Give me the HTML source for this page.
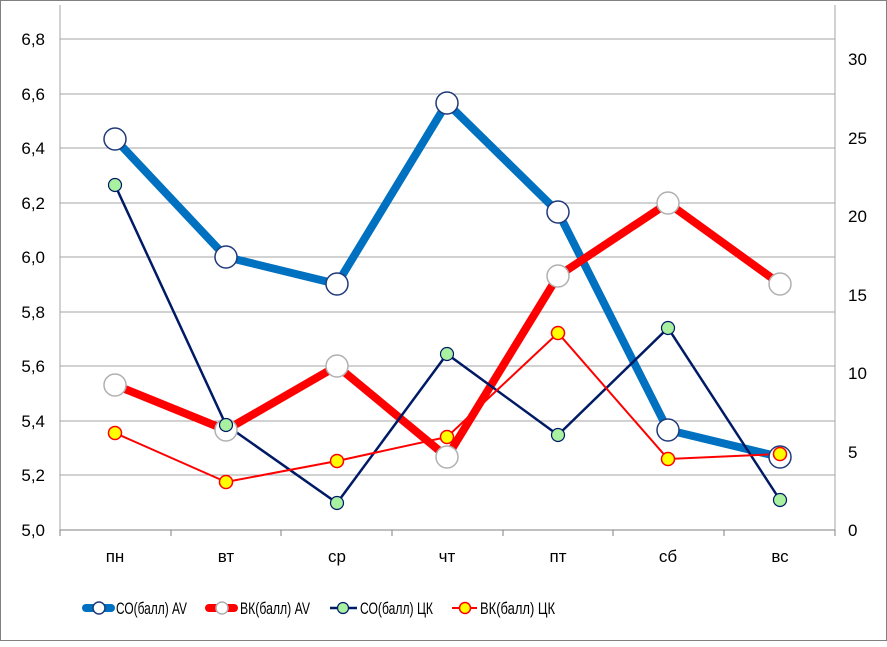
<!DOCTYPE html>
<html><head><meta charset="utf-8"><style>body{margin:0;background:#fff}</style></head><body>
<svg width="887" height="642" xmlns="http://www.w3.org/2000/svg" font-family="Liberation Sans, sans-serif">
<rect x="0.5" y="0.5" width="886" height="640" fill="#fff" stroke="#808080"/>
<g stroke="#a6a6a6" stroke-width="1">
<line x1="60" y1="39" x2="835" y2="39"/><line x1="60" y1="94" x2="835" y2="94"/><line x1="60" y1="148" x2="835" y2="148"/><line x1="60" y1="203" x2="835" y2="203"/><line x1="60" y1="257" x2="835" y2="257"/><line x1="60" y1="312" x2="835" y2="312"/><line x1="60" y1="366" x2="835" y2="366"/><line x1="60" y1="421" x2="835" y2="421"/><line x1="60" y1="475" x2="835" y2="475"/>
<line x1="60" y1="5" x2="60" y2="530"/><line x1="835" y1="5" x2="835" y2="530"/>
</g>
<line x1="60" y1="530" x2="835" y2="530" stroke="#808080"/>
<g stroke="#808080"><line x1="171" y1="530" x2="171" y2="536"/><line x1="281" y1="530" x2="281" y2="536"/><line x1="392" y1="530" x2="392" y2="536"/><line x1="503" y1="530" x2="503" y2="536"/><line x1="613" y1="530" x2="613" y2="536"/><line x1="724" y1="530" x2="724" y2="536"/><line x1="835" y1="530" x2="835" y2="536"/><line x1="60" y1="530" x2="60" y2="536"/></g>
<g font-size="17" fill="#000" text-anchor="end">
<text x="45" y="45">6,8</text><text x="45" y="100">6,6</text><text x="45" y="154">6,4</text><text x="45" y="209">6,2</text><text x="45" y="263">6,0</text><text x="45" y="318">5,8</text><text x="45" y="372">5,6</text><text x="45" y="427">5,4</text><text x="45" y="481">5,2</text><text x="45" y="536">5,0</text>
</g>
<g font-size="17" fill="#000" text-anchor="start">
<text x="848" y="65">30</text><text x="848" y="144">25</text><text x="848" y="222">20</text><text x="848" y="301">15</text><text x="848" y="379">10</text><text x="848" y="458">5</text><text x="848" y="536">0</text>
</g>
<g font-size="17" fill="#000" text-anchor="middle">
<text x="115" y="562">пн</text><text x="226" y="562">вт</text><text x="337" y="562">ср</text><text x="447" y="562">чт</text><text x="558" y="562">пт</text><text x="668" y="562">сб</text><text x="780" y="562">вс</text>
</g>
<polyline points="115,139 226,257 337,284 447,103 558,212 668,430 780,457" fill="none" stroke="#0070c0" stroke-width="8" stroke-linejoin="round"/>
<polyline points="115,385 226,430 337,366 447,457 558,276 668,203 780,284" fill="none" stroke="#ff0000" stroke-width="8" stroke-linejoin="round"/>
<polyline points="115,185 226,425 337,503 447,354 558,435 668,328 780,500" fill="none" stroke="#001a66" stroke-width="2.5"/>
<polyline points="115,433 226,482 337,461 447,437 558,333 668,459 780,454" fill="none" stroke="#ff0000" stroke-width="2"/>
<g fill="#fff" stroke="#1f3a7a" stroke-width="1.5">
<circle cx="115" cy="139" r="11"/><circle cx="226" cy="257" r="11"/><circle cx="337" cy="284" r="11"/><circle cx="447" cy="103" r="11"/><circle cx="558" cy="212" r="11"/><circle cx="668" cy="430" r="11"/><circle cx="780" cy="457" r="11"/>
</g>
<g fill="#fff" stroke="#b0b0b0" stroke-width="1.5">
<circle cx="115" cy="385" r="11"/><circle cx="226" cy="430" r="11"/><circle cx="337" cy="366" r="11"/><circle cx="447" cy="457" r="11"/><circle cx="558" cy="276" r="11"/><circle cx="668" cy="203" r="11"/><circle cx="780" cy="284" r="11"/>
</g>
<g fill="#a9f0a0" stroke="#001a66" stroke-width="1.2">
<circle cx="115" cy="185" r="6.5"/><circle cx="226" cy="425" r="6.5"/><circle cx="337" cy="503" r="6.5"/><circle cx="447" cy="354" r="6.5"/><circle cx="558" cy="435" r="6.5"/><circle cx="668" cy="328" r="6.5"/><circle cx="780" cy="500" r="6.5"/>
</g>
<g fill="#ffff00" stroke="#ff0000" stroke-width="1.5">
<circle cx="115" cy="433" r="6.5"/><circle cx="226" cy="482" r="6.5"/><circle cx="337" cy="461" r="6.5"/><circle cx="447" cy="437" r="6.5"/><circle cx="558" cy="333" r="6.5"/><circle cx="668" cy="459" r="6.5"/><circle cx="780" cy="454" r="6.5"/>
</g>
<g font-size="17" fill="#000">
<line x1="86" y1="608" x2="111" y2="608" stroke="#0070c0" stroke-width="8" stroke-linecap="round"/>
<circle cx="99" cy="608" r="6" fill="#fff" stroke="#1f3a7a" stroke-width="1.5"/>
<text x="116" y="614" textLength="71" lengthAdjust="spacingAndGlyphs">СО(балл) AV</text>
<line x1="209" y1="608" x2="234" y2="608" stroke="#ff0000" stroke-width="8" stroke-linecap="round"/>
<circle cx="222" cy="608" r="6" fill="#fff" stroke="#b0b0b0" stroke-width="1.5"/>
<text x="240" y="614" textLength="70" lengthAdjust="spacingAndGlyphs">ВК(балл) AV</text>
<line x1="330" y1="608" x2="357" y2="608" stroke="#001a66" stroke-width="2.5"/>
<circle cx="343" cy="608" r="5.5" fill="#a9f0a0" stroke="#001a66" stroke-width="1.2"/>
<text x="360" y="614" textLength="73" lengthAdjust="spacingAndGlyphs">СО(балл) ЦК</text>
<line x1="452" y1="608" x2="477" y2="608" stroke="#ff0000" stroke-width="2"/>
<circle cx="465" cy="608" r="5.5" fill="#ffff00" stroke="#ff0000" stroke-width="1.5"/>
<text x="480" y="614" textLength="75" lengthAdjust="spacingAndGlyphs">ВК(балл) ЦК</text>
</g>
</svg>
</body></html>
